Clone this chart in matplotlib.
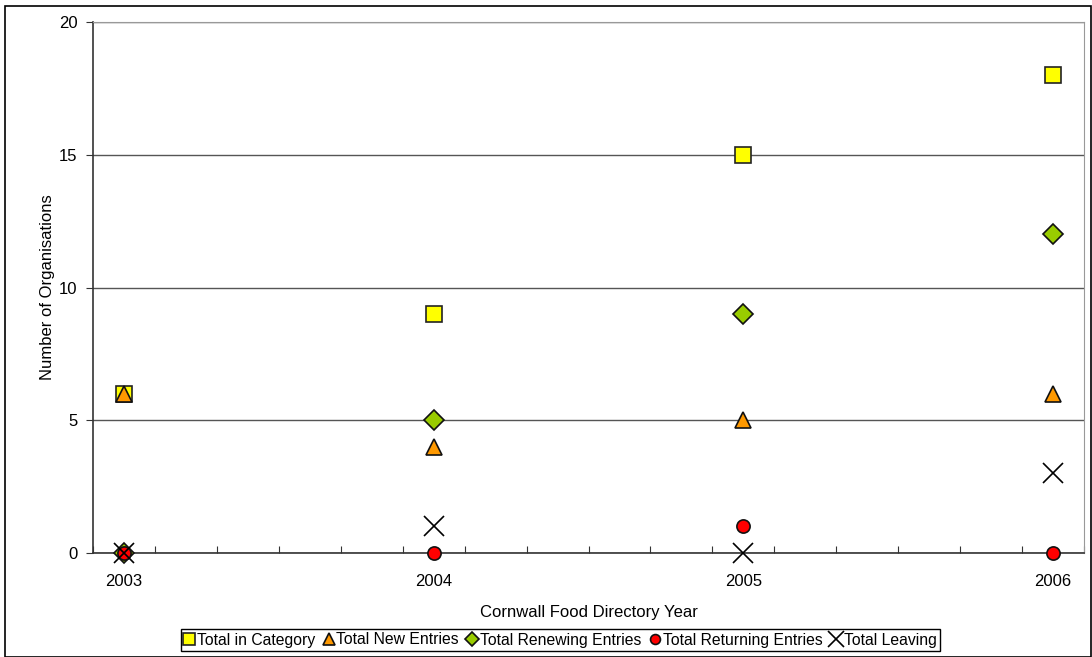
import matplotlib.pyplot as plt
from matplotlib.patches import Rectangle
import numpy as np

# データ
years = [2003, 2004, 2005, 2006]
total_in_category = [6, 9, 15, 18]
total_new = [6, 4, 5, 6]
total_renewing = [0, 5, 9, 12]
total_returning = [0, 0, 1, 0]
total_leaving = [0, 1, 0, 3]

plt.rcParams['font.family'] = ['Liberation Sans', 'DejaVu Sans']

fig = plt.figure(figsize=(10.92, 6.57), dpi=100)
ax = fig.add_axes([93 / 1092, 1 - 553 / 657, (1084 - 93) / 1092, (553 - 22) / 657])

kw = dict(ls="none", zorder=3, clip_on=False)
ax.plot(years, total_in_category, marker="s", ms=11, mfc="#FFFF00", mec="#222222", mew=1.2,
        label="Total in Category", **kw)
ax.plot(years, total_new, marker="^", ms=12, mfc="#FF9900", mec="#111111", mew=1.2,
        label="Total New Entries", **kw)
ax.plot(years, total_renewing, marker="D", ms=10, mfc="#99CC00", mec="#111111", mew=1.2,
        label="Total Renewing Entries", **kw)
ax.plot(years, total_returning, marker="o", ms=9.5, mfc="#FF0000", mec="#111111", mew=1.2,
        label="Total Returning Entries", **kw)
ax.plot(years, total_leaving, marker="x", ms=15, mec="black", mew=1.2,
        label="Total Leaving", **kw)

ax.set_xlim(2002.9, 2006.1)
ax.set_ylim(0, 20)
ax.set_yticks([0, 5, 10, 15, 20])
ax.yaxis.grid(True, color="#555555", lw=1)
ax.set_axisbelow(True)

# x軸: 目盛りは0.2刻み，ラベルは年のみ
ax.set_xticks(np.arange(2002.9, 2006.11, 0.2))
ax.set_xticklabels([])
ax.set_xticks(years, minor=True)
ax.set_xticklabels([str(y) for y in years], minor=True)
ax.tick_params(axis="x", which="minor", length=0, pad=15)
ax.tick_params(axis="x", which="major", length=5, direction="in", color="#333333")
ax.tick_params(axis="y", length=5, direction="out", color="#333333", pad=6)
ax.tick_params(which="both", labelsize=12)

for s in ["top", "right"]:
    ax.spines[s].set_color("#999999")
for s in ["left", "bottom"]:
    ax.spines[s].set_color("#333333")
    ax.spines[s].set_linewidth(1.2)

ax.set_xlabel("Cornwall Food Directory Year", fontsize=12, labelpad=12)
ax.set_ylabel("Number of Organisations", fontsize=12, labelpad=3)

leg = fig.legend(loc="center", bbox_to_anchor=(0.513, 1 - 640 / 657), ncol=5, fontsize=11.3,
                 frameon=True, fancybox=False, edgecolor="black", framealpha=1,
                 handlelength=0.7, handletextpad=0.15, columnspacing=0.5, borderpad=0.2,
                 markerscale=0.75)
leg.get_frame().set_linewidth(1)

fig.patches.append(Rectangle((5 / 1092, 0), 1 - 6 / 1092, 1 - 6 / 657, transform=fig.transFigure,
                             fill=False, edgecolor="black", lw=1.2))

fig.savefig("out.png", dpi=100)
